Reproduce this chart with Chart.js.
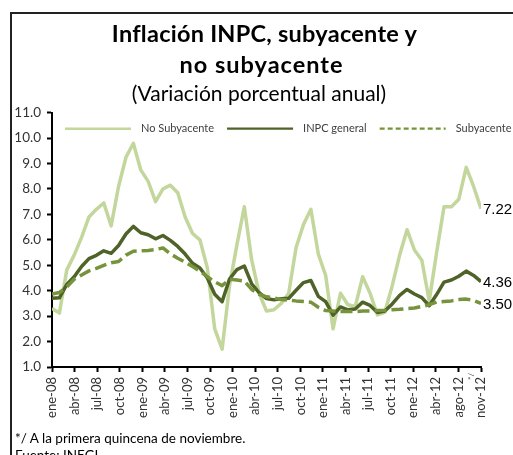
<!DOCTYPE html>
<html>
<head>
<meta charset="utf-8">
<script src="https://cdn.jsdelivr.net/npm/chart.js@4.4.1/dist/chart.umd.min.js"></script>
<style>
html,body{margin:0;padding:0;background:#fff;}
#wrap{position:relative;width:513px;height:455px;overflow:hidden;background:#fff;}
#frame{position:absolute;left:10px;top:12px;width:700px;height:600px;border-left:2px solid #222;border-top:2px solid #222;}
#c{position:absolute;left:0;top:0;}
.t{position:absolute;font-family:Lato, sans-serif;color:#000;text-align:center;white-space:nowrap;line-height:30px;}
#t1{left:0;width:529px;top:18px;font-size:23.5px;font-weight:bold;letter-spacing:0.25px;}
#t2{left:0;width:523px;top:49px;font-size:23.5px;font-weight:bold;letter-spacing:1px;}
#t3{left:0;width:518px;top:78px;font-size:21px;font-weight:normal;}
#note{position:absolute;left:15px;top:430px;font:13.5px Lato, sans-serif;color:#000;line-height:17px;white-space:nowrap;}
</style>
</head>
<body>
<div id="wrap">
  <div id="frame"></div>
  <canvas id="c" width="513" height="455"></canvas>
  <div class="t" id="t1">Inflación INPC, subyacente y</div>
  <div class="t" id="t2">no subyacente</div>
  <div class="t" id="t3">(Variación porcentual anual)</div>
  <div id="note">*/ A la primera quincena de noviembre.<br>Fuente: INEGI.</div>
</div>
<script>
const months = [
  'ene-08','feb-08','mar-08','abr-08','may-08','jun-08','jul-08','ago-08','sep-08','oct-08','nov-08','dic-08',
  'ene-09','feb-09','mar-09','abr-09','may-09','jun-09','jul-09','ago-09','sep-09','oct-09','nov-09','dic-09',
  'ene-10','feb-10','mar-10','abr-10','may-10','jun-10','jul-10','ago-10','sep-10','oct-10','nov-10','dic-10',
  'ene-11','feb-11','mar-11','abr-11','may-11','jun-11','jul-11','ago-11','sep-11','oct-11','nov-11','dic-11',
  'ene-12','feb-12','mar-12','abr-12','may-12','jun-12','jul-12','ago-12','sep-12','oct-12','nov-12'
];
const tickLabels = ['ene-08','abr-08','jul-08','oct-08','ene-09','abr-09','jul-09','oct-09','ene-10','abr-10',
  'jul-10','oct-10','ene-11','abr-11','jul-11','oct-11','ene-12','abr-12','ago-12','nov-12'];

const noSubyacente = [
  3.30, 3.12, 4.82, 5.40, 6.10, 6.90, 7.20, 7.45, 6.55, 8.10, 9.25, 9.80,
  8.75, 8.30, 7.50, 8.00, 8.15, 7.85, 6.90, 6.25, 6.00, 4.90, 2.50, 1.70,
  4.20, 5.80, 7.30, 5.20, 3.90, 3.20, 3.25, 3.50, 3.90, 5.70, 6.60, 7.20,
  5.45, 4.60, 2.50, 3.90, 3.45, 3.38, 4.55, 3.90, 3.05, 3.15, 4.20, 5.40,
  6.40, 5.60, 5.20, 3.60, 5.50, 7.30, 7.30, 7.60, 8.85, 8.10, 7.22
];
const inpcGeneral = [
  3.70, 3.72, 4.25, 4.55, 4.95, 5.26, 5.39, 5.57, 5.47, 5.78, 6.23, 6.53,
  6.28, 6.20, 6.04, 6.17, 5.98, 5.74, 5.44, 5.08, 4.89, 4.50, 3.86, 3.57,
  4.46, 4.83, 4.97, 4.27, 3.92, 3.69, 3.64, 3.68, 3.70, 4.02, 4.32, 4.40,
  3.78, 3.57, 3.04, 3.36, 3.25, 3.28, 3.55, 3.42, 3.14, 3.20, 3.48, 3.82,
  4.05, 3.87, 3.73, 3.41, 3.85, 4.34, 4.42, 4.57, 4.77, 4.60, 4.36
];
const subyacente = [
  3.87, 3.93, 4.15, 4.45, 4.62, 4.78, 4.88, 5.00, 5.10, 5.15, 5.40, 5.55,
  5.57, 5.58, 5.62, 5.68, 5.45, 5.28, 5.12, 4.95, 4.77, 4.55, 4.35, 4.20,
  4.45, 4.42, 4.38, 4.05, 3.86, 3.76, 3.72, 3.65, 3.63, 3.60, 3.58, 3.55,
  3.35, 3.22, 3.20, 3.18, 3.18, 3.18, 3.20, 3.20, 3.22, 3.23, 3.25, 3.27,
  3.30, 3.32, 3.38, 3.45, 3.55, 3.58, 3.60, 3.65, 3.67, 3.62, 3.50
];

const seriesNames = ['No Subyacente', 'INPC general', 'Subyacente'];
const colLight = '#c3d69b', colDark = '#4f6228', colMid = '#77933c';

const toXY = arr => arr.map((v, i) => ({x: i, y: v}));

const legendStyles = [
  {color: colLight, width: 2.5, dash: []},
  {color: colDark, width: 2.2, dash: []},
  {color: colMid, width: 2.2, dash: [5, 3]}
];

const customLegend = {
  id: 'customLegend',
  afterDraw(chart) {
    const ctx = chart.ctx;
    const y = chart.chartArea.top + 16;
    let x = 65;
    ctx.save();
    ctx.font = '11px Lato, sans-serif';
    ctx.textBaseline = 'middle';
    seriesNames.forEach((name, k) => {
      const st = legendStyles[k];
      ctx.beginPath();
      ctx.setLineDash(st.dash);
      ctx.lineWidth = st.width;
      ctx.strokeStyle = st.color;
      ctx.moveTo(x, y);
      ctx.lineTo(x + 66, y);
      ctx.stroke();
      ctx.setLineDash([]);
      x += 76;
      ctx.fillStyle = '#404040';
      ctx.fillText(name, x, y);
      x += ctx.measureText(name).width + 13;
    });
    ctx.restore();
  }
};

const endLabels = {
  id: 'endLabels',
  afterDatasetsDraw(chart) {
    const ctx = chart.ctx;
    ctx.save();
    ctx.font = '15px "Liberation Sans", Arial, sans-serif';
    ctx.fillStyle = '#000';
    ctx.textBaseline = 'middle';
    ctx.textAlign = 'left';
    chart.data.datasets.forEach((ds, di) => {
      const meta = chart.getDatasetMeta(di);
      const pt = meta.data[meta.data.length - 1];
      const val = ds.data[ds.data.length - 1].y;
      ctx.fillText(val.toFixed(2), pt.x + 2, pt.y + 1);
    });
    // superscript mark of the last tick label
    const xs = chart.scales.x;
    ctx.font = '8px Lato, sans-serif';
    ctx.fillStyle = '#333';
    ctx.translate(xs.getPixelForValue(months.length - 1) - 10, xs.top + 13);
    ctx.rotate(-Math.PI / 2);
    ctx.textAlign = 'left';
    ctx.fillText('*/', 0, 0);
    ctx.restore();
  }
};

new Chart(document.getElementById('c'), {
  type: 'line',
  data: {
    datasets: [
      {label: seriesNames[0], data: toXY(noSubyacente), borderColor: colLight, borderWidth: 3.5, order: 3},
      {label: seriesNames[1], data: toXY(inpcGeneral), borderColor: colDark, borderWidth: 3.5, order: 2},
      {label: seriesNames[2], data: toXY(subyacente), borderColor: colMid, borderWidth: 3.5, borderDash: [12, 5], order: 1}
    ]
  },
  options: {
    responsive: false,
    animation: false,
    events: [],
    elements: {
      point: {radius: 0},
      line: {tension: 0, borderJoinStyle: 'round', fill: false}
    },
    layout: {padding: {left: 0, right: 32, top: 112.7, bottom: 0}},
    plugins: {
      legend: {display: false},
      tooltip: {enabled: false},
      title: {display: false},
      subtitle: {display: false}
    },
    scales: {
      x: {
        type: 'linear',
        min: 0,
        max: months.length - 1,
        afterBuildTicks(scale) {
          const n = tickLabels.length - 1;
          scale.ticks = tickLabels.map((t, k) => ({value: k * (months.length - 1) / n}));
        },
        afterFit(scale) { scale.height = 88; },
        ticks: {
          autoSkip: false,
          maxRotation: 90,
          minRotation: 90,
          padding: 5,
          color: '#333',
          font: {family: 'Lato', size: 13},
          callback: (v, idx) => tickLabels[idx]
        },
        grid: {drawOnChartArea: false, drawTicks: true, tickLength: 5, color: '#000', tickWidth: 2},
        border: {display: true, color: '#000', width: 2}
      },
      y: {
        min: 1,
        max: 11,
        afterFit(scale) { scale.width = 52; },
        ticks: {
          stepSize: 1,
          padding: 6,
          color: '#333',
          font: {family: 'Lato', size: 13.5},
          callback: v => v.toFixed(1)
        },
        grid: {drawOnChartArea: false, drawTicks: true, tickLength: 5, color: '#000', tickWidth: 2},
        border: {display: true, color: '#000', width: 2}
      }
    }
  },
  plugins: [customLegend, endLabels]
});
</script>
</body>
</html>
